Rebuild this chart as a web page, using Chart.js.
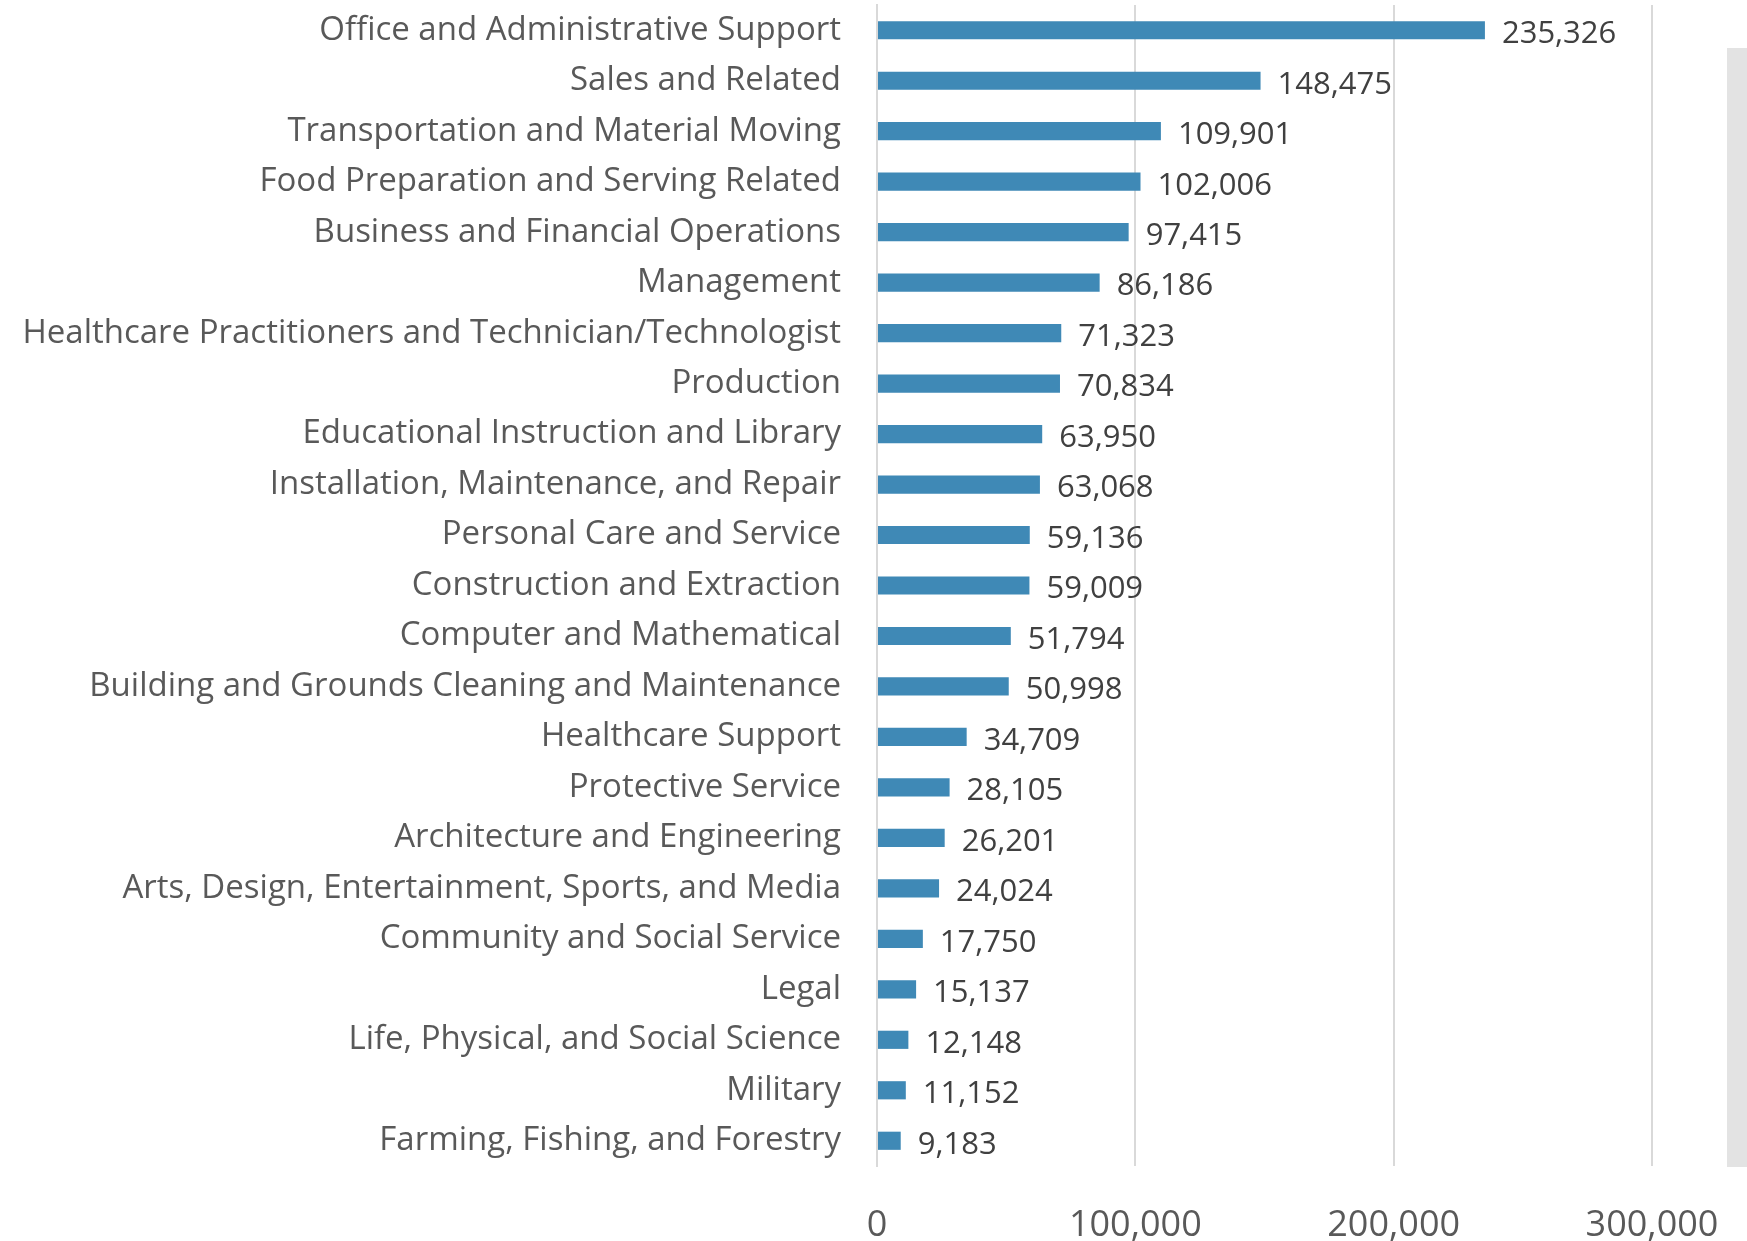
<!DOCTYPE html>
<html><head><meta charset="utf-8">
<script src="https://cdn.jsdelivr.net/npm/chart.js@4/dist/chart.umd.min.js"></script>
<style>
html,body{margin:0;padding:0;background:#fff;}
#wrap{position:relative;width:1747px;height:1241px;}
#side{position:absolute;left:1727px;top:48px;width:20px;height:1119px;background:#e3e3e3;}
</style></head>
<body><div id="wrap"><canvas id="c" width="1747" height="1241"></canvas><div id="side"></div></div>
<script>
const categories = [
 "Office and Administrative Support","Sales and Related","Transportation and Material Moving",
 "Food Preparation and Serving Related","Business and Financial Operations","Management",
 "Healthcare Practitioners and Technician/Technologist","Production","Educational Instruction and Library",
 "Installation, Maintenance, and Repair","Personal Care and Service","Construction and Extraction",
 "Computer and Mathematical","Building and Grounds Cleaning and Maintenance","Healthcare Support",
 "Protective Service","Architecture and Engineering","Arts, Design, Entertainment, Sports, and Media",
 "Community and Social Service","Legal","Life, Physical, and Social Science","Military",
 "Farming, Fishing, and Forestry"];
const values = [235326,148475,109901,102006,97415,86186,71323,70834,63950,63068,59136,59009,51794,50998,34709,28105,26201,24024,17750,15137,12148,11152,9183];
const xTicks = [0,100000,200000,300000];

const FONT = "'Open Sans', 'Noto Sans', sans-serif";
const fmt = v => v.toLocaleString('en-US');

const valueLabels = {
  id:'valueLabels',
  afterDatasetsDraw(chart){
    const ctx = chart.ctx;
    const meta = chart.getDatasetMeta(0);
    ctx.save();
    ctx.font = "31px " + FONT;
    ctx.fillStyle = "#404040";
    ctx.textAlign = "left";
    ctx.textBaseline = "middle";
    meta.data.forEach((bar,i)=>{
      ctx.fillText(fmt(values[i]), bar.x + 17, bar.y + 4);
    });
    ctx.restore();
  }
};

new Chart(document.getElementById('c'),{
  type:'bar',
  data:{labels:categories,datasets:[{data:values,backgroundColor:'#3f89b6',borderWidth:0,barPercentage:0.36,categoryPercentage:1}]},
  options:{
    indexAxis:'y',responsive:false,animation:false,
    layout:{padding:{left:0,right:95,top:5,bottom:0}},
    plugins:{legend:{display:false},tooltip:{enabled:false}},
    scales:{
      x:{min:0,max:300000,
        afterBuildTicks(s){s.ticks = xTicks.map(v=>({value:v}));},
        afterFit(s){s.height = 75; s.paddingLeft = 0; s.paddingRight = 0;},
        grid:{color:'#d9d9d9',lineWidth:2,drawTicks:false},
        border:{display:false},
        ticks:{padding:38,color:'#595959',font:{family:FONT,size:36},callback:v=>fmt(v),maxRotation:0}
      },
      y:{
        afterFit(s){s.width = 877; s.paddingTop = 0; s.paddingBottom = 0;},
        grid:{display:false,drawTicks:false},
        border:{display:true,color:'#d9d9d9',width:2},
        ticks:{padding:36,color:'#595959',font:{family:FONT,size:33},autoSkip:false}
      }
    }
  },
  plugins:[valueLabels]
});
</script></body></html>
